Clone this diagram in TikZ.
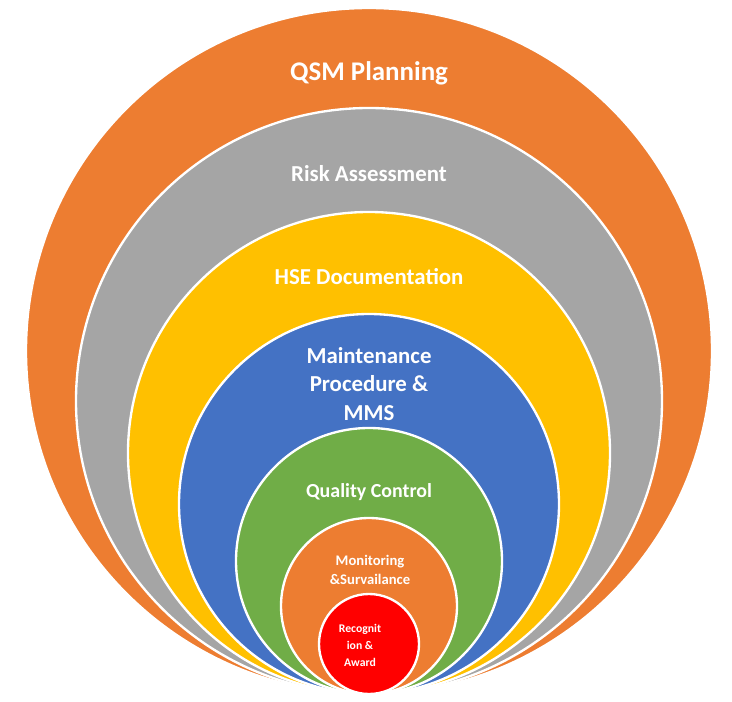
\documentclass[tikz,border=0pt]{standalone}
\usepackage{fontspec}
\setmainfont{Carlito}
\definecolor{qorange}{HTML}{ED7D31}
\definecolor{qgray}{HTML}{A5A5A5}
\definecolor{qyellow}{HTML}{FFC000}
\definecolor{qblue}{HTML}{4472C4}
\definecolor{qgreen}{HTML}{70AD47}
\definecolor{qred}{HTML}{FF0000}
\begin{document}
\begin{tikzpicture}[
        x=0.03cm, y=-0.03cm,
        ring/.style = {draw=white, line width=2pt},
        lbl/.style = {text=white, font=\bfseries, align=center}
    ]
    \useasboundingbox (0,0) rectangle (732,701);
    \coordinate (base) at (369,694);

    % nested circles tangent at the bottom
    \foreach \r/\c in {343/qorange, 293/qgray, 241/qyellow, 190/qblue, 133/qgreen, 88/qorange, 50/qred}
        \fill[ring, fill=\c] (base) ++(0,-\r) circle[radius=\r];

    \node[lbl, font=\bfseries\fontsize{23}{27}\selectfont] (qsm) at (369,73) {QSM Planning};
    \node[lbl, font=\bfseries\fontsize{19.5}{23}\selectfont] (risk) at (369,174) {Risk Assessment};
    \node[lbl, font=\bfseries\fontsize{19.5}{23}\selectfont] (hse) at (369,277) {HSE Documentation};
    \node[lbl, font=\bfseries\fontsize{19.5}{24}\selectfont] (mms) at (369,384) {Maintenance\\Procedure \&\\MMS};
    \node[lbl, font=\bfseries\fontsize{17}{20}\selectfont] (qc) at (369,492) {Quality Control};
    \node[lbl, font=\bfseries\fontsize{12.5}{16}\selectfont] (mon) at (370,570) {Monitoring\\\&Survailance};
    \node[lbl, font=\bfseries\fontsize{10}{14.5}\selectfont] (rec) at (360,645) {Recognit\\ion \&\\Award};
\end{tikzpicture}
\end{document}
